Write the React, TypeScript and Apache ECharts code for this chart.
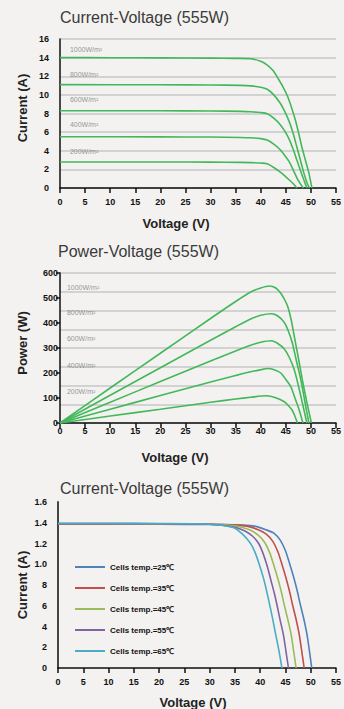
import React, { useEffect, useRef } from 'react';
import * as echarts from 'echarts';

const FONT = "'Liberation Sans', Arial, sans-serif";

// ---- Chart 1: Current-Voltage by irradiance ----
const irradianceNames = ['1000W/m²', '800W/m²', '600W/m²', '400W/m²', '200W/m²'];
const iv1000 = [[0, 14.0], [10, 13.99], [20, 13.97], [30, 13.95], [35, 13.92], [38, 13.88], [40, 13.6], [41.3, 13.2], [42.5, 12.6], [43.3, 11.9], [44.3, 11.0], [45.3, 9.9], [46.1, 8.7], [46.9, 7.3], [47.6, 5.8], [48.2, 4.4], [48.9, 3.0], [49.6, 1.6], [50.2, 0]];
const iv800 = [[0, 11.1], [20, 11.08], [30, 11.06], [36, 11.02], [38, 10.97], [40, 10.82], [41.3, 10.6], [42.6, 10.0], [43.9, 9.1], [44.8, 8.2], [45.7, 7.1], [46.5, 5.8], [47.2, 4.4], [47.9, 3.0], [48.6, 1.6], [49.2, 0.6], [49.7, 0]];
const iv600 = [[0, 8.3], [20, 8.29], [30, 8.27], [36, 8.23], [38, 8.19], [40, 8.1], [41.3, 7.98], [42.6, 7.5], [43.9, 6.8], [44.8, 6.1], [45.7, 5.2], [46.5, 4.1], [47.2, 3.0], [47.9, 1.9], [48.6, 0.86], [49.2, 0]];
const iv400 = [[0, 5.5], [20, 5.49], [30, 5.47], [36, 5.43], [38, 5.39], [40, 5.3], [41.3, 5.15], [42.6, 4.7], [43.9, 4.1], [44.8, 3.5], [45.7, 2.8], [46.5, 1.9], [47.2, 1.1], [47.9, 0.45], [48.5, 0]];
const iv200 = [[0, 2.8], [20, 2.79], [30, 2.78], [36, 2.75], [38, 2.73], [40, 2.68], [41.3, 2.6], [42.6, 2.2], [43.9, 1.7], [44.8, 1.3], [45.7, 0.86], [46.5, 0.45], [47.2, 0]];
const ivLabelPos = [[1.97, 14.82], [1.97, 12.14], [1.97, 9.45], [1.97, 6.77], [1.97, 3.87]];

// ---- Chart 2: Power-Voltage by irradiance ----
const pv1000 = [[0, 0], [10, 140], [20, 279], [30, 418], [35, 486], [38, 524], [40, 540], [41.7, 548], [43, 540], [44, 519], [44.8, 492], [45.4, 465], [46.1, 410], [46.7, 345], [47.5, 260], [48.3, 172], [49.2, 82], [50.1, 0]];
const pv800 = [[0, 0], [10, 111], [20, 221], [30, 331], [35, 385], [38, 416], [40, 431], [42.1, 437], [43.4, 428], [44.7, 402], [45.5, 368], [46.3, 320], [47.1, 250], [48, 172], [48.8, 85], [49.6, 0]];
const pv600 = [[0, 0], [10, 83], [20, 166], [30, 248], [35, 288], [38, 311], [40, 323], [42.1, 329], [43.4, 318], [44.7, 296], [45.7, 262], [46.7, 212], [47.5, 150], [48.3, 80], [49.2, 0]];
const pv400 = [[0, 0], [10, 55], [20, 110], [30, 164], [35, 190], [38, 205], [40, 213], [41.4, 218], [42.7, 213], [44, 200], [45, 174], [46, 145], [46.9, 95], [47.7, 50], [48.4, 0]];
const pv200 = [[0, 0], [10, 28], [20, 55], [30, 83], [35, 96], [38, 103], [41.1, 109], [43, 101], [44.7, 85], [45.5, 70], [46.3, 50], [46.8, 28], [47.3, 0]];
const pvLabelPos = [[1.38, 544], [1.38, 444], [1.38, 340], [1.38, 232], [1.38, 128]];

// ---- Chart 3: Current-Voltage by cell temperature ----
const tempNames = ['Cells temp.=25℃', 'Cells temp.=35℃', 'Cells temp.=45℃', 'Cells temp.=55℃', 'Cells temp.=65℃'];
const tempColors = ['#4f81bd', '#c0504d', '#9bbb59', '#8064a2', '#4bacc6'];
const t25 = [[0, 13.85], [10, 13.85], [20, 13.85], [30, 13.84], [35, 13.8], [38, 13.72], [39.5, 13.6], [41, 13.35], [42.7, 13.0], [44, 12.3], [45, 11.3], [45.8, 10.1], [46.6, 8.8], [47.3, 7.5], [47.9, 6.2], [48.6, 4.8], [49.2, 3.4], [49.7, 1.8], [50.2, 0]];
const t35 = [[0, 13.87], [10, 13.87], [20, 13.87], [30, 13.85], [34, 13.8], [36.5, 13.72], [38, 13.6], [39.5, 13.35], [41.2, 12.9], [42.5, 12.2], [43.5, 11.2], [44.3, 10.0], [45.1, 8.7], [45.8, 7.4], [46.4, 6.1], [47.1, 4.7], [47.7, 3.3], [48.2, 1.7], [48.7, 0]];
const t45 = [[0, 13.9], [10, 13.9], [20, 13.89], [30, 13.86], [33, 13.8], [35, 13.7], [36.5, 13.55], [38, 13.3], [39.6, 12.8], [40.9, 12.1], [41.9, 11.1], [42.7, 9.9], [43.5, 8.6], [44.2, 7.3], [44.8, 6.0], [45.5, 4.6], [46.1, 3.3], [46.6, 1.7], [47.1, 0]];
const t55 = [[0, 13.92], [10, 13.92], [20, 13.9], [30, 13.85], [32, 13.78], [34, 13.65], [35.5, 13.5], [37, 13.2], [38.5, 12.7], [39.7, 12.0], [40.6, 11.0], [41.4, 9.8], [42.1, 8.5], [42.8, 7.2], [43.4, 5.9], [44.0, 4.5], [44.6, 3.2], [45.1, 1.6], [45.6, 0]];
const t65 = [[0, 13.95], [10, 13.95], [20, 13.93], [28, 13.9], [31, 13.8], [33, 13.7], [34.9, 13.5], [36.5, 12.9], [38.1, 12.0], [39.1, 11.0], [40, 9.7], [40.9, 8.2], [41.7, 6.5], [42.4, 4.9], [43, 3.4], [43.7, 1.7], [44.3, 0]];
const chart3YLabels = ['0', '2', '4', '6', '8', '1.0', '1.2', '1.4', '1.6'];

const ivCurves = [iv1000, iv800, iv600, iv400, iv200];
const pvCurves = [pv1000, pv800, pv600, pv400, pv200];
const tempCurves = [t25, t35, t45, t55, t65];

const GREEN = '#43b85a';

export default function App() {
  const ref = useRef<HTMLDivElement>(null);
  useEffect(() => {
    if (!ref.current) return;
    const chart = echarts.init(ref.current, undefined, { renderer: 'svg' });
    const tickLabel = { color: '#111', fontSize: 9, fontWeight: 'bold' as const, fontFamily: FONT };
    const xBase = (gridIndex: number, margin: number) => ({
      gridIndex,
      type: 'value' as const,
      min: 0,
      max: 55,
      interval: 5,
      axisLine: { show: true, onZero: false, lineStyle: { color: '#111', width: 1.5 } },
      axisTick: { show: true, length: 5, lineStyle: { color: '#111', width: 1.5 } },
      axisLabel: { ...tickLabel, margin },
      splitLine: { show: false },
    });
    const lineSeries = (data: number[][], xi: number, yi: number, color: string, name: string, width = 1.6) => ({
      type: 'line' as const,
      name,
      xAxisIndex: xi,
      yAxisIndex: yi,
      data,
      symbol: 'none',
      smooth: 0.25,
      silent: true,
      lineStyle: { color, width },
      itemStyle: { color },
    });
    const labelSeries = (pos: number[][], xi: number, yi: number) => ({
      type: 'scatter' as const,
      xAxisIndex: xi,
      yAxisIndex: yi,
      symbolSize: 0,
      silent: true,
      data: pos.map((p, i) => [p[0], p[1], irradianceNames[i]]),
      label: {
        show: true,
        position: 'right' as const,
        distance: 0,
        formatter: (p: any) => p.data[2],
        color: '#7a7a7a',
        fontSize: 7,
        fontFamily: FONT,
      },
    });

    const series: any[] = [];
    ivCurves.forEach((c, i) => series.push(lineSeries(c, 0, 0, GREEN, 'iv' + irradianceNames[i])));
    series.push(labelSeries(ivLabelPos, 0, 0));
    pvCurves.forEach((c, i) => series.push(lineSeries(c, 1, 2, GREEN, 'pv' + irradianceNames[i])));
    series.push(labelSeries(pvLabelPos, 1, 2));
    tempCurves.forEach((c, i) => series.push(lineSeries(c, 2, 3, tempColors[i], tempNames[i], 1.6)));

    const axisTitle = { fontSize: 13, fontWeight: 'bold', fontFamily: FONT, fill: '#222', align: 'center', verticalAlign: 'middle' };
    const titleStyle = { fontSize: 16, fontWeight: 'normal' as const, fontFamily: FONT, color: '#3a3a3a' };

    chart.setOption({
      animation: false,
      backgroundColor: '#f3f2f0',
      title: [
        { text: 'Current-Voltage (555W)', left: 60, top: 9, padding: 0, textStyle: titleStyle },
        { text: 'Power-Voltage (555W)', left: 58, top: 243, padding: 0, textStyle: titleStyle },
        { text: 'Current-Voltage (555W)', left: 60, top: 480, padding: 0, textStyle: titleStyle },
      ],
      grid: [
        { left: 60, right: 5, top: 39, height: 149 },
        { left: 60, right: 5, top: 273, height: 150 },
        { left: 58, right: 4, top: 502, height: 166 },
      ],
      legend: {
        data: tempNames,
        orient: 'vertical',
        left: 75,
        top: 561,
        itemWidth: 30,
        itemHeight: 2,
        icon: 'rect',
        itemGap: 9,
        padding: 0,
        textStyle: { color: '#111', fontSize: 8, fontWeight: 'bold', fontFamily: FONT, lineHeight: 12 },
      },
      xAxis: [xBase(0, 9), xBase(1, 3), xBase(2, 9)],
      yAxis: [
        {
          gridIndex: 0, type: 'value', position: 'left', min: 0, max: 16, interval: 2,
          axisLine: { show: true, lineStyle: { color: '#111', width: 1.5 } },
          axisTick: { show: false },
          axisLabel: { ...tickLabel, margin: 11 },
          splitLine: { show: true, lineStyle: { color: '#d2d2d2', width: 2 } },
        },
        {
          gridIndex: 1, type: 'value', position: 'left', min: 0, max: 600, interval: 75,
          axisLine: { show: false }, axisTick: { show: false }, axisLabel: { show: false },
          splitLine: { show: true, lineStyle: { color: '#d2d2d2', width: 2 } },
        },
        {
          gridIndex: 1, type: 'value', position: 'left', offset: 0, min: 0, max: 600, interval: 100,
          axisLine: { show: true, lineStyle: { color: '#111', width: 1.5 } },
          axisTick: { show: true, length: 4, lineStyle: { color: '#111', width: 1.5 } },
          axisLabel: { ...tickLabel, margin: 2 },
          splitLine: { show: false },
        },
        {
          gridIndex: 2, type: 'value', position: 'left', min: 0, max: 16, interval: 2,
          axisLine: { show: true, lineStyle: { color: '#444', width: 2 } },
          axisTick: { show: false },
          axisLabel: { ...tickLabel, margin: 11, formatter: (v: number) => chart3YLabels[Math.round(v / 2)] ?? '' },
          splitLine: { show: false },
        },
      ],
      graphic: [
        { type: 'text', x: 176, y: 223, style: { ...axisTitle, text: 'Voltage (V)' } },
        { type: 'text', x: 22, y: 108, rotation: Math.PI / 2, style: { ...axisTitle, text: 'Current (A)' } },
        { type: 'text', x: 175, y: 457, style: { ...axisTitle, text: 'Voltage (V)' } },
        { type: 'text', x: 22, y: 343, rotation: Math.PI / 2, style: { ...axisTitle, text: 'Power (W)' } },
        { type: 'text', x: 193, y: 702, style: { ...axisTitle, text: 'Voltage (V)' } },
        { type: 'text', x: 22, y: 585, rotation: Math.PI / 2, style: { ...axisTitle, text: 'Current (A)' } },
      ],
      series,
    });
    return () => chart.dispose();
  }, []);
  return <div ref={ref} style={{ position: 'fixed', left: 0, top: 0, width: 344, height: 709 }} />;
}
